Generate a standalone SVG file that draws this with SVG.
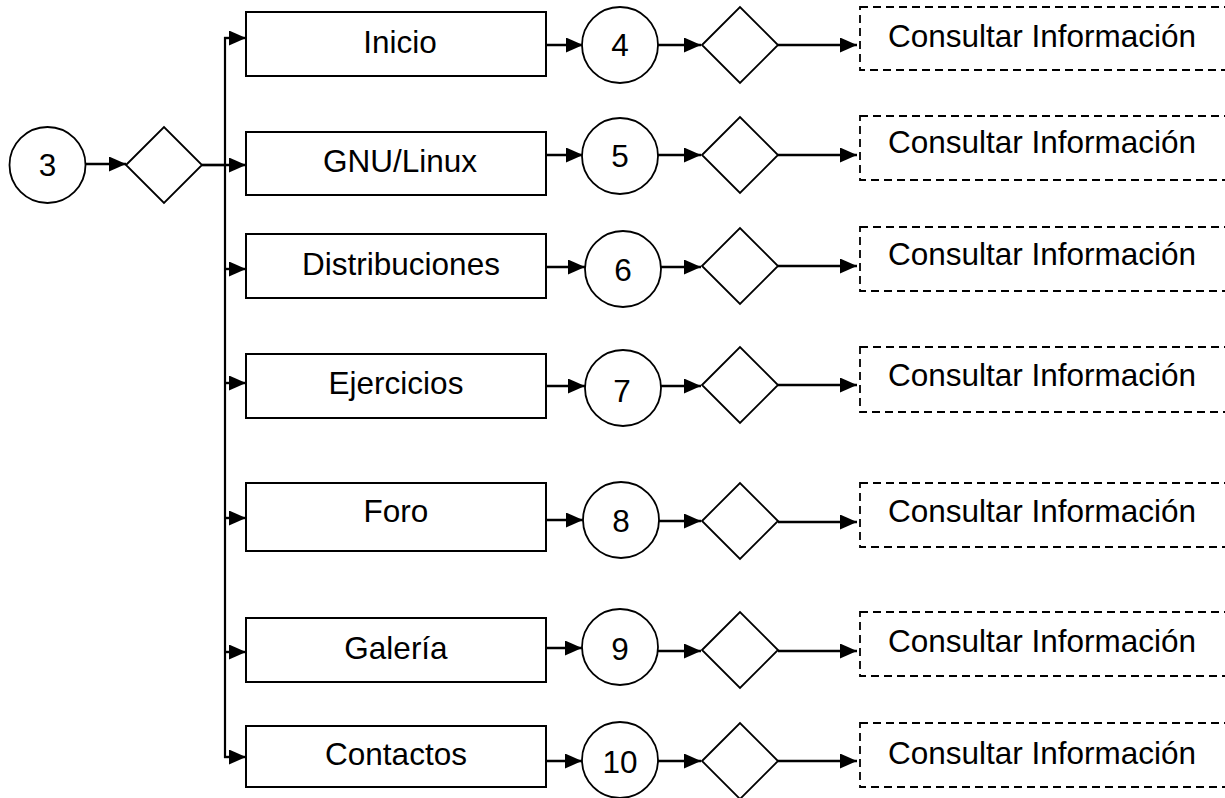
<svg xmlns="http://www.w3.org/2000/svg" width="1225" height="798" viewBox="0 0 1225 798">
  <defs>
    <marker id="arrow" markerUnits="userSpaceOnUse" markerWidth="17" markerHeight="15" refX="17" refY="7.5" orient="auto" viewBox="0 0 17 15">
      <path d="M0,0 L17,7.5 L0,15 Z" fill="#000"/>
    </marker>
    <style>
      .box { fill: #fff; stroke: #000; stroke-width: 2; }
      .dash { fill: #fff; stroke: #000; stroke-width: 1.8; stroke-dasharray: 8 5; }
      .circ { fill: #fff; stroke: #000; stroke-width: 1.8; }
      .dia { fill: #fff; stroke: #000; stroke-width: 1.8; }
      .lbl { font-family: "Liberation Sans", Arial, sans-serif; font-size: 31.5px; fill: #000; text-anchor: middle; }
      .info { font-family: "Liberation Sans", Arial, sans-serif; font-size: 31.5px; fill: #000; }
      .edge { fill: none; stroke: #000; stroke-width: 2.4; marker-end: url(#arrow); }
      .trunk { fill: none; stroke: #000; stroke-width: 2.2; }
    </style>
  </defs>
  <rect width="1225" height="798" fill="#fff"/>

  <!-- connectors -->
  <g id="connectors">
    <line class="edge" x1="86" y1="164" x2="126" y2="164"/>
    <line class="trunk" x1="225" y1="37" x2="225" y2="758"/>
    <line class="trunk" x1="202" y1="165" x2="225" y2="165"/>
    <line class="edge" x1="224" y1="38" x2="246" y2="38"/>
    <line class="edge" x1="202" y1="165" x2="246" y2="165"/>
    <line class="edge" x1="225" y1="269" x2="246" y2="269"/>
    <line class="edge" x1="225" y1="383" x2="246" y2="383"/>
    <line class="edge" x1="225" y1="518" x2="246" y2="518"/>
    <line class="edge" x1="225" y1="652" x2="246" y2="652"/>
    <line class="edge" x1="224" y1="757" x2="246" y2="757"/>

    <!-- box to circle -->
    <line class="edge" x1="547" y1="45" x2="583" y2="45"/>
    <line class="edge" x1="547" y1="155" x2="583" y2="155"/>
    <line class="edge" x1="547" y1="267" x2="585" y2="267"/>
    <line class="edge" x1="547" y1="386" x2="585" y2="386"/>
    <line class="edge" x1="547" y1="520" x2="583" y2="520"/>
    <line class="edge" x1="547" y1="648" x2="582" y2="648"/>
    <line class="edge" x1="547" y1="761" x2="582" y2="761"/>

    <!-- circle to diamond -->
    <line class="edge" x1="658" y1="45" x2="701" y2="45"/>
    <line class="edge" x1="658" y1="155" x2="701" y2="155"/>
    <line class="edge" x1="661" y1="267" x2="701" y2="267"/>
    <line class="edge" x1="661" y1="386" x2="701" y2="386"/>
    <line class="edge" x1="659" y1="521" x2="701" y2="521"/>
    <line class="edge" x1="658" y1="651" x2="701" y2="651"/>
    <line class="edge" x1="658" y1="761" x2="701" y2="761"/>

    <!-- diamond to consult -->
    <line class="edge" x1="778" y1="45" x2="857" y2="45"/>
    <line class="edge" x1="778" y1="155" x2="857" y2="155"/>
    <line class="edge" x1="778" y1="266" x2="857" y2="266"/>
    <line class="edge" x1="778" y1="385" x2="857" y2="385"/>
    <line class="edge" x1="778" y1="522" x2="857" y2="522"/>
    <line class="edge" x1="778" y1="651" x2="857" y2="651"/>
    <line class="edge" x1="778" y1="761" x2="857" y2="761"/>
  </g>

  <!-- start -->
  <g id="n3">
    <circle class="circ" cx="47.5" cy="165" r="38"/>
    <text class="lbl" x="47.5" y="176">3</text>
  </g>
  <g id="d0">
    <polygon class="dia" points="126,165 164,127 202,165 164,203"/>
  </g>

  <!-- menu options -->
  <g id="inicio">
    <rect class="box" x="246" y="12" width="300" height="64"/>
    <text class="lbl" x="400" y="53">Inicio</text>
  </g>
  <g id="gnulinux">
    <rect class="box" x="246" y="132" width="300" height="63"/>
    <text class="lbl" x="400" y="172">GNU/Linux</text>
  </g>
  <g id="distribuciones">
    <rect class="box" x="246" y="234" width="300" height="64"/>
    <text class="lbl" x="401" y="275">Distribuciones</text>
  </g>
  <g id="ejercicios">
    <rect class="box" x="246" y="354" width="300" height="64"/>
    <text class="lbl" x="396" y="394">Ejercicios</text>
  </g>
  <g id="foro">
    <rect class="box" x="246" y="483" width="300" height="68"/>
    <text class="lbl" x="396" y="522">Foro</text>
  </g>
  <g id="galeria">
    <rect class="box" x="246" y="618" width="300" height="64"/>
    <text class="lbl" x="396" y="659">Galería</text>
  </g>
  <g id="contactos">
    <rect class="box" x="246" y="726" width="300" height="61"/>
    <text class="lbl" x="396" y="765">Contactos</text>
  </g>

  <!-- numbered connectors -->
  <g id="n4"><circle class="circ" cx="620" cy="45" r="38"/><text class="lbl" x="620" y="56">4</text></g>
  <g id="n5"><circle class="circ" cx="620" cy="156" r="38"/><text class="lbl" x="620" y="167">5</text></g>
  <g id="n6"><circle class="circ" cx="623" cy="269" r="38"/><text class="lbl" x="623" y="281">6</text></g>
  <g id="n7"><circle class="circ" cx="623" cy="388" r="38"/><text class="lbl" x="622" y="402">7</text></g>
  <g id="n8"><circle class="circ" cx="621" cy="520" r="38"/><text class="lbl" x="621" y="532">8</text></g>
  <g id="n9"><circle class="circ" cx="620" cy="647" r="38"/><text class="lbl" x="620" y="660">9</text></g>
  <g id="n10"><circle class="circ" cx="620" cy="760" r="38"/><text class="lbl" x="620" y="773">10</text></g>

  <!-- decisions -->
  <g id="d4"><polygon class="dia" points="702,45 740,7 778,45 740,83"/></g>
  <g id="d5"><polygon class="dia" points="702,155 740,117 778,155 740,193"/></g>
  <g id="d6"><polygon class="dia" points="702,266 740,228 778,266 740,304"/></g>
  <g id="d7"><polygon class="dia" points="702,385 740,347 778,385 740,423"/></g>
  <g id="d8"><polygon class="dia" points="702,521 740,483 778,521 740,559"/></g>
  <g id="d9"><polygon class="dia" points="702,650 740,612 778,650 740,688"/></g>
  <g id="d10"><polygon class="dia" points="702,761 740,723 778,761 740,799"/></g>

  <!-- consult panels -->
  <g id="c4"><rect class="dash" x="860" y="7" width="400" height="63"/><text class="info" x="888" y="47">Consultar Información</text></g>
  <g id="c5"><rect class="dash" x="860" y="116" width="400" height="64"/><text class="info" x="888" y="153">Consultar Información</text></g>
  <g id="c6"><rect class="dash" x="860" y="227" width="400" height="64"/><text class="info" x="888" y="265">Consultar Información</text></g>
  <g id="c7"><rect class="dash" x="860" y="347" width="400" height="65"/><text class="info" x="888" y="386">Consultar Información</text></g>
  <g id="c8"><rect class="dash" x="860" y="483" width="400" height="64"/><text class="info" x="888" y="522">Consultar Información</text></g>
  <g id="c9"><rect class="dash" x="860" y="612" width="400" height="64"/><text class="info" x="888" y="652">Consultar Información</text></g>
  <g id="c10"><rect class="dash" x="860" y="723" width="400" height="64"/><text class="info" x="888" y="764">Consultar Información</text></g>
</svg>
